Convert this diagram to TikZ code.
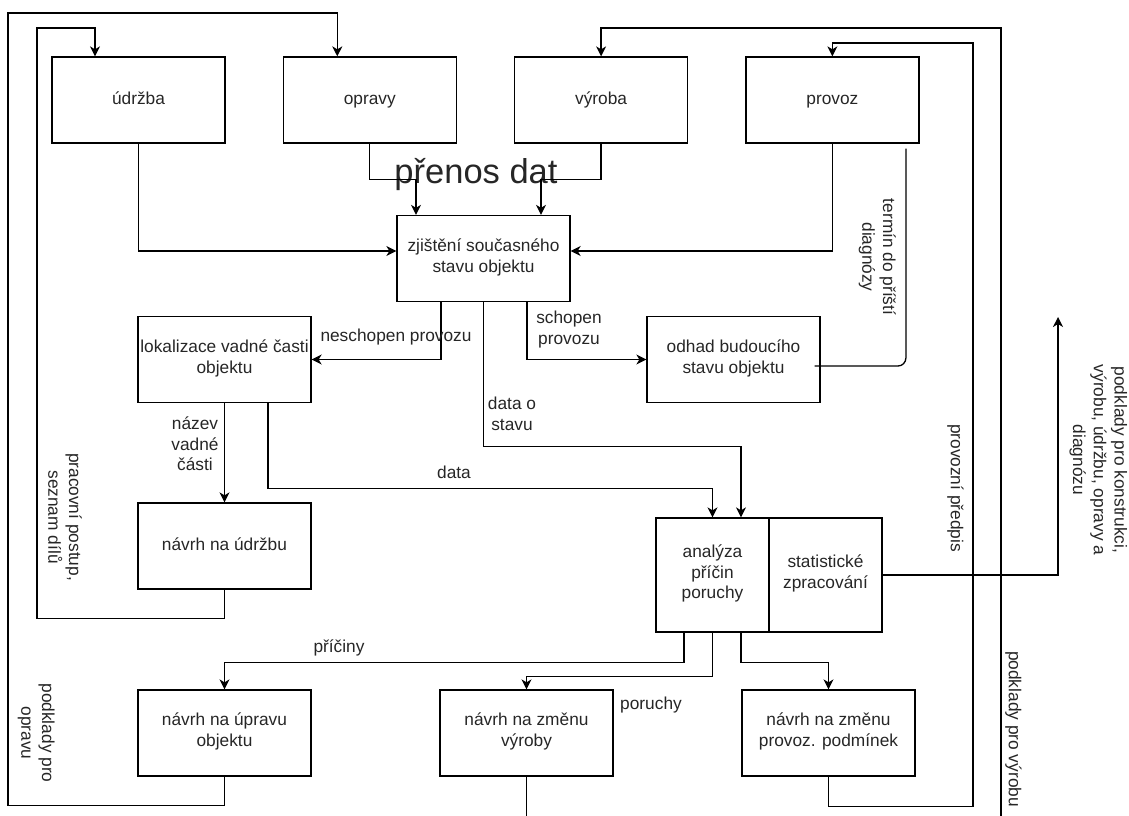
\documentclass[tikz,border=0pt]{standalone}
\usepackage{fontspec}
\setmainfont{Liberation Sans}
\usetikzlibrary{positioning,arrows.meta}
\tikzset{
  >={Stealth[length=10pt,width=10pt,inset=3pt]},
  blk/.style={draw, minimum width=173pt, minimum height=86pt, align=center, inner sep=2pt,
    execute at begin node=\strut, execute at end node=\strut},
  lbl/.style={align=center, inner sep=0pt,
    execute at begin node=\strut, execute at end node=\strut},
  vlbl/.style={lbl, rotate=-90}
}
\newcommand{\boxfont}{\fontsize{17.3}{20.7}\selectfont}

\begin{document}
\begin{tikzpicture}[x=1pt, y=-1pt, font=\boxfont, text=black!85, line width=1.3pt]
  \clip (0,0) rectangle (1129,815);
  % top row
  \node[blk] (udrzba) at (138.5,100) {údržba};
  \node[blk, right=57pt of udrzba] (opravy) {opravy};
  \node[blk, right=57pt of opravy] (vyroba) {výroba};
  \node[blk, right=57pt of vyroba] (provoz) {provoz};
  % middle
  \node[blk] (zjisteni) at (483.5,258.5) {zjištění současného\\stavu objektu};
  \node[blk] (lokalizace) at (224.5,359.5) {lokalizace vadné časti\\objektu};
  \node[blk] (odhad) at (733.5,359.5) {odhad budoucího\\stavu objektu};
  \node[blk] (udrzbanavrh) at (224.5,546) {návrh na údržbu};
  \node[blk, minimum width=113pt, minimum height=114pt] (anl) at (712.5,575) {analýza\\příčin\\poruchy};
  \node[blk, minimum width=113pt, minimum height=114pt] (stat) at (825.5,575) {statistické\\zpracování};
  % bottom row
  \node[blk] (upravu) at (224.5,733) {návrh na úpravu\\objektu};
  \node[blk] (zmvyroby) at (526.5,733) {návrh na změnu\\výroby};
  \node[blk] (zmprovoz) at (828.5,733) {návrh na změnu\\provoz. podmínek};

  \node[font=\fontsize{34.5}{40}\selectfont, anchor=base, inner sep=0pt] (prenos) at (476,183) {přenos dat};

  % into zjisteni
  \draw[->] (udrzba.south) |- ([yshift=7.5pt]zjisteni.west);
  \draw[->] (provoz.south) |- ([yshift=7.5pt]zjisteni.east);
  \draw[->] (opravy.south) -- ++(0,36) -| ([xshift=-67.5pt]zjisteni.north);
  \draw[->] (vyroba.south) -- ++(0,36) -| ([xshift=57.5pt]zjisteni.north);
  % out of zjisteni
  \draw[->] ([xshift=-42.5pt]zjisteni.south) |- (lokalizace.east);
  \draw[->] ([xshift=43.5pt]zjisteni.south) |- (odhad.west);
  \draw[->] (zjisteni.south) -- ++(0,144) -| ([xshift=28.5pt]anl.north);
  \draw[->] (lokalizace.south) -- (udrzbanavrh.north);
  \draw[->] ([xshift=43.5pt]lokalizace.south) -- ++(0,85.5) -| (anl.north);
  \draw[rounded corners=8pt] ([xshift=-6pt,yshift=-6.5pt]odhad.east) -| ([xshift=73.5pt,yshift=-5pt]provoz.south);
  % feedback loops
  \draw[->] (udrzbanavrh.south) -- ++(0,29) -| (37,28) -| ([xshift=-43.5pt]udrzba.north);
  \draw[->] (upravu.south) -- ++(0,29) -| (8,13) -| ([xshift=-32.5pt]opravy.north);
  \draw[->] ([xshift=-28.5pt]anl.south) -- ++(0,30) -| (upravu.north);
  \draw[->] (anl.south) -- ++(0,44) -| (zmvyroby.north);
  \draw[->] ([xshift=28.5pt]anl.south) -- ++(0,30) -| (zmprovoz.north);
  \draw[->] (zmprovoz.south) -- ++(0,30) -| (973,43) -| (provoz.north);
  \draw[->] (zmvyroby.south) -- ++(0,60) -| (1001,28) -| (vyroba.north);
  \coordinate (podkl) at (1058,317);
  \draw[->] (stat.east) -| (podkl);

  % labels
  \node[lbl] (lneschopen) at (396,337) {neschopen provozu};
  \node[lbl] (lschopen) at (569,331) {schopen\\provozu};
  \node[lbl] (ldatastav) at (512,417) {data o\\stavu};
  \node[lbl] (ldata) at (454,474) {data};
  \node[lbl] (lnazev) at (195,447) {název\\vadné\\části};
  \node[lbl] (lpriciny) at (339,648) {příčiny};
  \node[lbl] (lporuchy) at (651,705) {poruchy};
  \node[vlbl] (lpostup) at (62,517) {pracovní postup,\\seznam dílů};
  \node[vlbl] (loprava) at (35,733) {podklady pro\\opravu};
  \node[vlbl] (ltermin) at (876,257) {termín do příští\\diagnózy};
  \node[vlbl] (lpredpis) at (955,488) {provozní předpis};
  \node[vlbl] (lvyroba) at (1013,729) {podklady pro výrobu};
  \node[vlbl] (lkonstr) at (1097,460) {podklady pro konstrukci,\\výrobu, údržbu, opravy a\\diagnózu};
\end{tikzpicture}
\end{document}
